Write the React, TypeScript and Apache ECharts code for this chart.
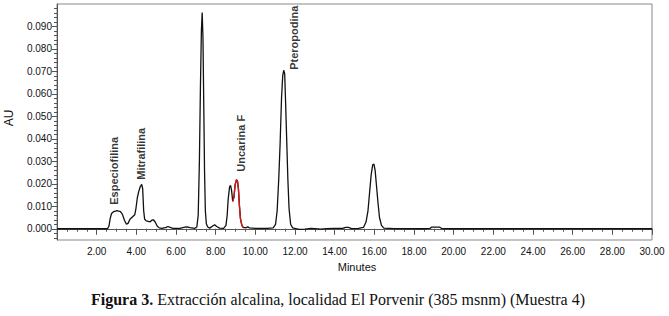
import React, { useEffect, useRef } from "react";
import * as echarts from "echarts";

// Chromatogram trace: [minutes, AU]
const traceTimes = [
  0, 2.55, 2.62, 2.68, 2.75, 2.85, 2.95, 3.02, 3.1, 3.2, 3.3, 3.4, 3.5, 3.58, 3.68, 3.8, 3.92, 3.98,
  4.05, 4.12, 4.2, 4.27, 4.32, 4.37, 4.42, 4.5, 4.6, 4.7, 4.78, 4.86, 4.95, 5.05, 5.15, 5.3, 5.5, 5.6,
  5.7, 5.85, 6.2, 6.45, 6.55, 6.7, 6.95, 7.05, 7.12, 7.18, 7.23, 7.28, 7.32, 7.36, 7.4, 7.44, 7.48,
  7.53, 7.6, 7.7, 7.85, 7.95, 8.05, 8.2, 8.4, 8.52, 8.58, 8.63, 8.7, 8.75, 8.8, 8.86, 8.92, 8.98, 9.05,
  9.1, 9.15, 9.2, 9.25, 9.32, 9.4, 9.55, 9.62, 9.7, 10.0, 10.6, 10.9, 11.02, 11.1, 11.18, 11.25, 11.32,
  11.38, 11.43, 11.48, 11.52, 11.58, 11.64, 11.7, 11.78, 11.88, 12.2, 12.5, 12.8, 13.0, 13.3, 13.6,
  14.0, 14.4, 14.55, 14.7, 14.85, 15.2, 15.45, 15.58, 15.68, 15.76, 15.84, 15.92, 15.98, 16.04, 16.1,
  16.18, 16.26, 16.36, 16.48, 17.0, 18.5, 18.8, 18.9, 19.3, 19.4, 20.0, 30.0,
];
const traceValues = [
  0, 0, 0.0012, 0.0045, 0.0068, 0.0076, 0.0078, 0.0081, 0.0079, 0.0076, 0.0064, 0.0038, 0.002, 0.0024,
  0.0042, 0.0052, 0.0062, 0.009, 0.0138, 0.0165, 0.0188, 0.0197, 0.0178, 0.008, 0.0042, 0.0035, 0.0033,
  0.0031, 0.0038, 0.004, 0.003, 0.0012, 0.0004, 0.0002, 0.0006, 0.001, 0.0006, 0.0002, 0.0002, 0.0007,
  0.0008, 0.0005, 0.0002, 0.0008, 0.006, 0.03, 0.062, 0.088, 0.0962, 0.085, 0.055, 0.025, 0.008, 0.0022,
  0.0008, 0.0003, 0.0012, 0.0018, 0.001, 0.0003, 0.0002, 0.0015, 0.006, 0.013, 0.0185, 0.0193, 0.0172,
  0.0122, 0.014, 0.0195, 0.0218, 0.0212, 0.0175, 0.01, 0.0045, 0.0015, 0.0005, 0.0005, 0.0009, 0.0004,
  0.0002, 0.0002, 0.0004, 0.002, 0.008, 0.022, 0.038, 0.058, 0.068, 0.0705, 0.069, 0.058, 0.04, 0.022,
  0.009, 0.002, 0.0004, -0.0003, -0.0002, 0.0002, 0.0001, -0.0002, 0.0001, 0.0002, 0.0002, 0.0006,
  0.0006, 0.0001, 0.0002, 0.0006, 0.003, 0.008, 0.016, 0.024, 0.0285, 0.0288, 0.026, 0.02, 0.012, 0.005,
  0.0015, 0.0003, 0.0001, 0, 0.0002, 0.0007, 0.0007, 0.0001, 0, 0,
];

// Highlighted (red) portion: Uncarina F
const redStart = 8.86;
const redEnd = 9.4;

// Peak labels
const peakNames = ["Especiofilina", "Mitrafilina", "Uncarina F", "Pteropodina"];
const peakLabelTimes = [2.88, 4.24, 9.28, 11.93];
const peakLabelValues = [0.0107, 0.0218, 0.0254, 0.0707];

const yMajorTicks = [0, 0.01, 0.02, 0.03, 0.04, 0.05, 0.06, 0.07, 0.08, 0.09];
const yMinorTicks = [
  -0.004, -0.002, 0.002, 0.004, 0.006, 0.008, 0.012, 0.014, 0.016, 0.018, 0.022, 0.024, 0.026, 0.028,
  0.032, 0.034, 0.036, 0.038, 0.042, 0.044, 0.046, 0.048, 0.052, 0.054, 0.056, 0.058, 0.062, 0.064,
  0.066, 0.068, 0.072, 0.074, 0.076, 0.078, 0.082, 0.084, 0.086, 0.088, 0.092, 0.094, 0.096, 0.098,
];

const captionBold = "Figura 3.";
const captionRest = " Extracción alcalina, localidad El Porvenir (385 msnm) (Muestra 4)";

export default function App() {
  const ref = useRef<HTMLDivElement>(null);
  useEffect(() => {
    if (!ref.current) return;
    const chart = echarts.init(ref.current, undefined, { renderer: "svg" });
    const trace = traceTimes.map((t, i) => [t, traceValues[i]]);
    const red = trace.filter((p) => p[0] >= redStart && p[0] <= redEnd);
    const labels = peakNames.map((n, i) => ({ name: n, value: [peakLabelTimes[i], peakLabelValues[i]] }));
    const axisColor = "#555";
    chart.setOption({
      animation: false,
      grid: { left: 57, right: 17, top: 4, bottom: 76, show: true, borderColor: "#888", borderWidth: 1 },
      xAxis: {
        type: "value",
        min: 0,
        max: 30,
        interval: 2,
        axisLine: { show: true, lineStyle: { color: axisColor } },
        axisTick: { show: true, length: 6, lineStyle: { color: axisColor } },
        minorTick: { show: true, splitNumber: 4, length: 3, lineStyle: { color: axisColor } },
        splitLine: { show: false },
        axisLabel: {
          margin: 6,
          fontSize: 10,
          fontFamily: "Liberation Sans, Arial",
          color: "#111",
          formatter: (v: number) => (v === 0 ? "" : v.toFixed(2)),
        },
      },
      yAxis: [
        {
          type: "value",
          min: -0.005,
          max: 0.1,
          axisLine: { show: true, lineStyle: { color: axisColor } },
          axisTick: { show: true, length: 5, customValues: yMajorTicks, lineStyle: { color: axisColor } },
          splitLine: { show: false },
          axisLabel: {
            customValues: yMajorTicks,
            margin: 5,
            fontSize: 10,
            fontFamily: "Liberation Sans, Arial",
            color: "#111",
            formatter: (v: number) => v.toFixed(3),
          },
        },
        {
          type: "value",
          min: -0.005,
          max: 0.1,
          position: "left",
          axisLine: { show: false },
          axisTick: { show: true, length: 3, customValues: yMinorTicks, lineStyle: { color: axisColor } },
          axisLabel: { show: false },
          splitLine: { show: false },
        },
      ],
      series: [
        {
          type: "line",
          data: trace,
          showSymbol: false,
          symbol: "none",
          lineStyle: { color: "#111", width: 1.3 },
          z: 2,
        },
        {
          type: "line",
          data: red,
          showSymbol: false,
          symbol: "none",
          lineStyle: { color: "#d01818", width: 1.4 },
          z: 3,
        },
        {
          type: "scatter",
          data: labels,
          symbolSize: 0,
          z: 4,
          label: {
            show: true,
            formatter: "{b}",
            position: [0, 0],
            rotate: 90,
            align: "left",
            verticalAlign: "middle",
            fontSize: 11,
            fontWeight: "bold",
            fontFamily: "Liberation Sans, Arial",
            color: "#000",
          },
        },
      ],
      graphic: [
        {
          type: "text",
          x: 9,
          y: 118,
          rotation: Math.PI / 2,
          style: {
            text: "AU",
            fontSize: 12,
            fontFamily: "Liberation Sans, Arial",
            fill: "#111",
            align: "center",
            verticalAlign: "middle",
          },
        },
        {
          type: "text",
          x: 357,
          y: 267,
          style: {
            text: "Minutes",
            fontSize: 11,
            fontFamily: "Liberation Sans, Arial",
            fill: "#111",
            align: "center",
            verticalAlign: "middle",
          },
        },
        {
          type: "text",
          x: 338,
          y: 299,
          style: {
            text: "{b|" + captionBold + "}" + captionRest,
            fontSize: 16,
            fontFamily: "Liberation Serif, Times New Roman",
            fill: "#111",
            align: "center",
            verticalAlign: "middle",
            rich: {
              b: { fontSize: 16, fontWeight: "bold", fontFamily: "Liberation Serif, Times New Roman", fill: "#111" },
            },
          },
        },
      ],
    });
    return () => chart.dispose();
  }, []);
  return (
    <div
      ref={ref}
      style={{ position: "fixed", left: 0, top: 0, width: 669, height: 316, background: "#fff" }}
    />
  );
}
